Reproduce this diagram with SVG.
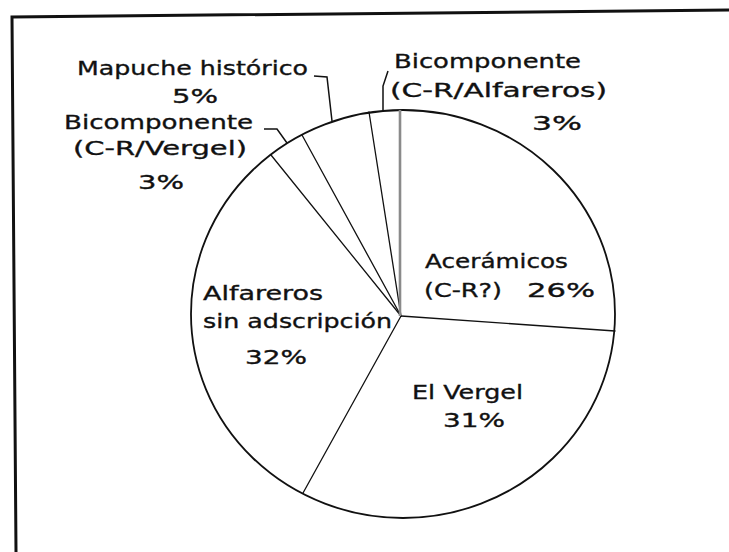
<svg xmlns="http://www.w3.org/2000/svg" width="729" height="552" viewBox="0 0 729 552">
  <style>
    .t { font-family: "DejaVu Sans", Verdana, sans-serif; font-size: 20px; fill: #111; stroke: #111; stroke-width: 0.35; }
    .pie { fill: #fff; stroke: #111; stroke-width: 1.8; }
    .cut { stroke: #111; stroke-width: 1.3; fill: none; stroke-linecap: round; }
    .lead { stroke: #111; stroke-width: 1.5; fill: none; }
  </style>
  <rect x="0" y="0" width="729" height="552" fill="#fff"/>
  <g id="frame">
    <path d="M 16 552 L 12 17 L 729 10" fill="none" stroke="#111" stroke-width="3"/>
  </g>
  <g id="pie">
    <ellipse class="pie" cx="403" cy="314" rx="212" ry="204"/>
    <line class="cut" x1="401" y1="316" x2="369" y2="112"/>
    <line class="cut" x1="401" y1="316" x2="302" y2="135"/>
    <line class="cut" x1="401" y1="316" x2="271" y2="155"/>
    <line class="cut" x1="401" y1="316" x2="303" y2="493"/>
    <line class="cut" x1="401" y1="316" x2="615" y2="331" stroke-width="2.2"/>
    <line x1="400" y1="316" x2="400" y2="110" stroke="#8a8a8a" stroke-width="2.6"/>
  </g>
  <g id="connectors">
    <polyline class="lead" points="314,76 327,77 332,121"/>
    <polyline class="lead" points="264,129 277,129 287,143"/>
    <polyline class="lead" points="388,71 383,86 383,111"/>
  </g>
  <g id="node-mapuche">
    <text class="t" x="77" y="75" textLength="231" lengthAdjust="spacingAndGlyphs">Mapuche histórico</text>
    <text class="t" x="172" y="103" textLength="46" lengthAdjust="spacingAndGlyphs">5%</text>
  </g>
  <g id="node-bicomp-vergel">
    <text class="t" x="64" y="129" textLength="189" lengthAdjust="spacingAndGlyphs">Bicomponente</text>
    <text class="t" x="73" y="155" textLength="174" lengthAdjust="spacingAndGlyphs">(C-R/Vergel)</text>
    <text class="t" x="138" y="189" textLength="46" lengthAdjust="spacingAndGlyphs">3%</text>
  </g>
  <g id="node-bicomp-alfareros">
    <text class="t" x="394" y="68" textLength="187" lengthAdjust="spacingAndGlyphs">Bicomponente</text>
    <text class="t" x="390" y="97" textLength="217" lengthAdjust="spacingAndGlyphs">(C-R/Alfareros)</text>
    <text class="t" x="532" y="130" textLength="50" lengthAdjust="spacingAndGlyphs">3%</text>
  </g>
  <g id="node-aceramicos">
    <text class="t" x="425" y="268" textLength="143" lengthAdjust="spacingAndGlyphs">Acerámicos</text>
    <text class="t" x="424" y="297" textLength="78" lengthAdjust="spacingAndGlyphs">(C-R?)</text>
    <text class="t" x="527" y="297" textLength="68" lengthAdjust="spacingAndGlyphs">26%</text>
  </g>
  <g id="node-alfareros">
    <text class="t" x="203" y="300" textLength="120" lengthAdjust="spacingAndGlyphs">Alfareros</text>
    <text class="t" x="203" y="328" textLength="189" lengthAdjust="spacingAndGlyphs">sin adscripción</text>
    <text class="t" x="245" y="364" textLength="62" lengthAdjust="spacingAndGlyphs">32%</text>
  </g>
  <g id="node-elvergel">
    <text class="t" x="412" y="399" textLength="111" lengthAdjust="spacingAndGlyphs">El Vergel</text>
    <text class="t" x="443" y="427" textLength="62" lengthAdjust="spacingAndGlyphs">31%</text>
  </g>
</svg>
